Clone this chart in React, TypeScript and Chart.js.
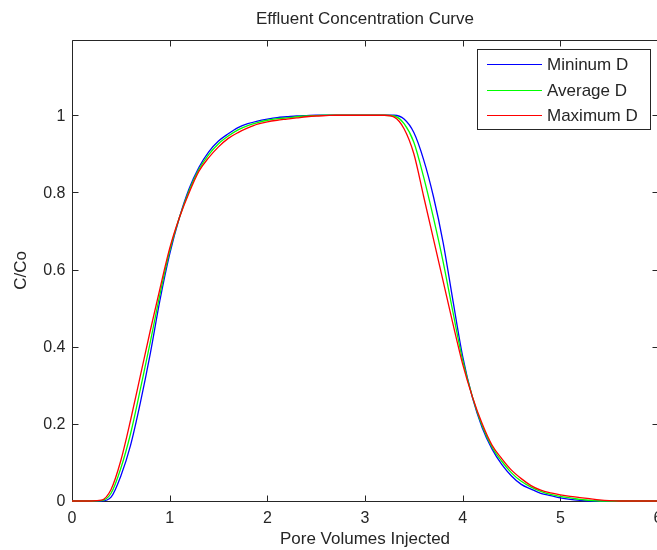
import React, { useEffect, useRef } from "react";
import { Chart, registerables } from "chart.js";

Chart.register(...registerables);

const poreVolumes = [
  0, 0.1, 0.2, 0.3, 0.4, 0.5, 0.6, 0.7, 0.8, 0.9,
  1.0, 1.1, 1.2, 1.3, 1.4, 1.5, 1.6, 1.7, 1.8, 1.9,
  2.0, 2.1, 2.2, 2.3, 2.4, 2.5, 2.6, 2.7, 2.8, 2.9,
  3.0, 3.1, 3.2, 3.3, 3.4, 3.5, 3.6, 3.7, 3.8, 3.9,
  4.0, 4.1, 4.2, 4.3, 4.4, 4.5, 4.6, 4.7, 4.8, 4.9,
  5.0, 5.1, 5.2, 5.3, 5.4, 5.5, 5.6, 5.7, 5.8, 5.9, 6.0,
];

const minimumD = [
  0, 0, 0, 0, 0.01, 0.065, 0.145, 0.255, 0.38, 0.52,
  0.64, 0.735, 0.81, 0.865, 0.905, 0.933, 0.952, 0.968, 0.978, 0.985,
  0.99, 0.994, 0.996, 0.998, 0.999, 1, 1, 1, 1, 1,
  1, 1, 1, 1, 0.99, 0.955, 0.885, 0.79, 0.67, 0.52,
  0.375, 0.268, 0.19, 0.135, 0.095, 0.065, 0.043, 0.031, 0.02, 0.014,
  0.008, 0.004, 0.0015, 0, 0, 0, 0, 0, 0, 0, 0,
];

const averageD = [
  0, 0, 0, 0.001, 0.02, 0.085, 0.175, 0.29, 0.41, 0.535,
  0.648, 0.735, 0.805, 0.86, 0.898, 0.926, 0.946, 0.962, 0.973, 0.981,
  0.987, 0.991, 0.993, 0.996, 0.998, 0.999, 1, 1, 1, 1,
  1, 1, 1, 0.998, 0.978, 0.93, 0.84, 0.735, 0.62, 0.49,
  0.365, 0.27, 0.195, 0.14, 0.103, 0.073, 0.051, 0.036, 0.025, 0.017,
  0.012, 0.008, 0.004, 0.002, 0, 0, 0, 0, 0, 0, 0,
];

const maximumD = [
  0, 0, 0, 0.002, 0.03, 0.105, 0.21, 0.325, 0.44, 0.55,
  0.655, 0.735, 0.8, 0.855, 0.89, 0.918, 0.94, 0.955, 0.967, 0.977,
  0.983, 0.987, 0.99, 0.993, 0.996, 0.998, 0.999, 1, 1, 1,
  1, 1, 1, 0.995, 0.965, 0.9, 0.79, 0.68, 0.57, 0.46,
  0.355, 0.27, 0.2, 0.145, 0.11, 0.08, 0.058, 0.04, 0.028, 0.021,
  0.016, 0.012, 0.009, 0.006, 0.003, 0.001, 0, 0, 0, 0, 0,
];

const seriesLabels = ["Mininum D", "Average D", "Maximum D"];
const seriesColors = ["#0000ff", "#00ff00", "#ff0000"];
const xTicks = [0, 1, 2, 3, 4, 5, 6];
const yTicks = [0, 0.2, 0.4, 0.6, 0.8, 1];
const yTickLabels = ["0", "0.2", "0.4", "0.6", "0.8", "1"];
const titleText = "Effluent Concentration Curve";
const xTitle = "Pore Volumes Injected";
const yTitle = "C/Co";

const FONT = '"Liberation Sans", Arial, sans-serif';
const AXIS_COLOR = "#262626";

const framePlugin = {
  id: "matlabFrame",
  beforeDatasetsDraw(chart: any) {
    const { ctx, chartArea: a, scales } = chart;
    const xs = scales.x;
    const ys = scales.y;
    ctx.save();
    ctx.strokeStyle = AXIS_COLOR;
    ctx.lineWidth = 1;
    const L = Math.round(a.left) + 0.5;
    const R = Math.round(a.right) + 0.5;
    const T = Math.round(a.top) + 0.5;
    const B = Math.round(a.bottom) + 0.5;
    ctx.beginPath();
    ctx.moveTo(L, T);
    ctx.lineTo(R, T);
    ctx.lineTo(R, B);
    ctx.lineTo(L, B);
    ctx.closePath();
    ctx.stroke();
    const tl = 6;
    ctx.beginPath();
    xTicks.forEach((v) => {
      const px = Math.round(xs.getPixelForValue(v)) + 0.5;
      ctx.moveTo(px, B);
      ctx.lineTo(px, B - tl);
      ctx.moveTo(px, T);
      ctx.lineTo(px, T + tl);
    });
    yTicks.forEach((v) => {
      const py = Math.round(ys.getPixelForValue(v)) + 0.5;
      ctx.moveTo(L, py);
      ctx.lineTo(L + tl, py);
      ctx.moveTo(R, py);
      ctx.lineTo(R - tl, py);
    });
    ctx.stroke();

    ctx.fillStyle = AXIS_COLOR;
    ctx.font = `16px ${FONT}`;
    ctx.textAlign = "center";
    ctx.textBaseline = "top";
    xTicks.forEach((v) => {
      ctx.fillText(String(v), xs.getPixelForValue(v), B + 9);
    });
    ctx.textAlign = "right";
    ctx.textBaseline = "middle";
    yTicks.forEach((v, i) => {
      ctx.fillText(yTickLabels[i], L - 7, ys.getPixelForValue(v) + 1);
    });

    ctx.font = `17px ${FONT}`;
    ctx.textAlign = "center";
    ctx.textBaseline = "middle";
    const cx = 365;
    ctx.fillText(titleText, cx, 19);
    ctx.fillText(xTitle, cx, 539);
    ctx.save();
    ctx.translate(21, (a.top + a.bottom) / 2);
    ctx.rotate(-Math.PI / 2);
    ctx.fillText(yTitle, 0, 0);
    ctx.restore();
    ctx.restore();
  },
  afterDraw(chart: any) {
    const { ctx } = chart;
    ctx.save();
    const bx = 477.5, by = 49.5, bw = 173, bh = 80;
    ctx.fillStyle = "#ffffff";
    ctx.fillRect(bx, by, bw, bh);
    ctx.strokeStyle = AXIS_COLOR;
    ctx.lineWidth = 1;
    ctx.strokeRect(bx, by, bw, bh);
    const rows = [64, 90, 115];
    ctx.font = `17px ${FONT}`;
    ctx.textAlign = "left";
    ctx.textBaseline = "middle";
    seriesLabels.forEach((lab, i) => {
      ctx.strokeStyle = seriesColors[i];
      ctx.beginPath();
      ctx.moveTo(487, rows[i] + 0.5);
      ctx.lineTo(542, rows[i] + 0.5);
      ctx.stroke();
      ctx.fillStyle = AXIS_COLOR;
      ctx.fillText(lab, 547, rows[i] + 1);
    });
    ctx.restore();
  },
};

export default function App() {
  const ref = useRef<HTMLCanvasElement | null>(null);
  useEffect(() => {
    if (!ref.current) return;
    const series = [minimumD, averageD, maximumD];
    const chart = new Chart(ref.current, {
      type: "line",
      data: {
        datasets: series.map((vals, i) => ({
          label: seriesLabels[i],
          data: poreVolumes.map((x, j) => ({ x, y: vals[j] })),
          borderColor: seriesColors[i],
          backgroundColor: seriesColors[i],
          borderWidth: 1.3,
          pointRadius: 0,
          fill: false,
          cubicInterpolationMode: "monotone" as const,
          order: 2 - i,
          clip: 2,
        })),
      },
      options: {
        animation: false,
        responsive: false,
        maintainAspectRatio: false,
        events: [],
        layout: { padding: { left: 72, top: 40, right: 42, bottom: 49 } },
        plugins: {
          legend: { display: false },
          title: { display: false },
          tooltip: { enabled: false },
        },
        scales: {
          x: { type: "linear", min: 0, max: 6, display: false },
          y: { type: "linear", min: 0, max: 1.195, display: false },
        },
      },
      plugins: [framePlugin],
    });
    return () => chart.destroy();
  }, []);
  return (
    <div
      style={{
        position: "absolute",
        left: 0,
        top: 0,
        width: 657,
        height: 550,
        overflow: "hidden",
        background: "#ffffff",
      }}
    >
      <canvas ref={ref} width={700} height={550} style={{ display: "block", width: 700, height: 550 }} />
    </div>
  );
}
